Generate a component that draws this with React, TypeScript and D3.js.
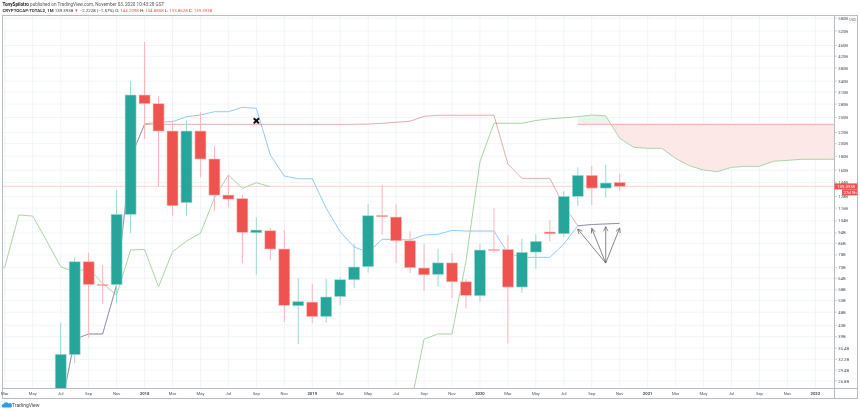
import React from "react";
import * as d3 from "d3";

const W = 860, H = 411;
const PLOT = { l: 2.5, r: 834.5, t: 15.5, b: 388.5, outerR: 857.5, outerB: 398.5 };

// monthly candles, Jul 2017 (month 0) to Nov 2020 (month 40), in billions of USD
const opens = [24, 33.5, 73.6, 60.7, 60.6, 110, 302.3, 280.8, 222.8, 121.4, 222.8, 175.8, 129.5, 125.7, 94.1, 95.7, 82.0, 50.7, 52.3, 46.3, 54.8, 63.2, 70.6, 109.0, 107.5, 87.9, 69.8, 66.1, 72.9, 62.1, 55.2, 81.7, 81.7, 59.4, 79.9, 94.7, 93.3, 128.1, 153.1, 137.4, 144.2098];
const highs = [44.0, 76.6, 79.5, 71.5, 135.1, 340.4, 473.7, 299.8, 243.6, 243.6, 261.1, 196.2, 153.5, 129.5, 107.2, 97.9, 96.3, 64.0, 60.9, 63.6, 64.7, 86.0, 120, 141, 119.7, 95.3, 85.5, 82.2, 79.0, 63.8, 85.5, 115.8, 92.3, 89.4, 93.1, 104.6, 134.0, 163.8, 165.6, 167.5, 154.8858];
const lows = [22, 31.2, 38.6, 51.4, 52.0, 93.8, 208.2, 139.0, 108.7, 108.7, 150.5, 113.1, 117.0, 72.9, 65.9, 74.7, 44.2, 36.6, 43.7, 43.9, 51.0, 58.9, 67.1, 92.6, 72.8, 66.9, 57.4, 59.5, 54.1, 49.6, 52.5, 79.2, 36.8, 56.6, 69.2, 87.5, 91.0, 118, 119, 126.6, 133.8628];
const closes = [33.6, 73.6, 60.7, 60.4, 110, 302.3, 280.8, 222.8, 118.3, 222.8, 175.8, 129.5, 125.2, 94.4, 96.3, 82.0, 50.9, 52.5, 46.3, 54.6, 63.2, 70.4, 108.7, 107.8, 87.9, 70.0, 65.9, 72.9, 62.1, 55.4, 81.3, 81.3, 59.4, 79.7, 87.5, 93.3, 128.1, 153.1, 137.4, 143.4, 139.3938];

// conversion line, month 0 to 40
const conversion = [20.9, 38.2, 39.9, 39.9, 60.4, 177.3, 236.4, 240.5, 241.1, 251.5, 255.2, 262.4, 262.4, 272.4, 270.1, 181.8, 152.2, 148.7, 148.7, 115.8, 94.9, 83.4, 79.7, 89.0, 89.0, 88.5, 92.3, 92.9, 96.0, 95.5, 95.5, 95.5, 79.2, 76.4, 76.4, 76.4, 85.5, 99.8, 100.9, 101.4, 101.9];
// base line, month 0 to 40
const base = [20.9, 38.2, 39.9, 39.9, 60.4, 177.3, 235.8, 235.8, 235.8, 235.8, 235.8, 235.8, 235.8, 235.8, 235.8, 235.8, 235.8, 235.8, 235.8, 235.8, 235.8, 235.8, 236.4, 237.9, 239.9, 242.1, 252.4, 254.7, 254.7, 254.7, 254.7, 254.7, 168.5, 149.2, 149.2, 149.2, 119, 99.8, 100.9, 101.4, 101.9];
// leading span A, two visible runs
const spanAFirstStart = -5;
const spanAFirst = [65.8, 70.4, 109.4, 108.4, 87.7, 70.6, 67.5, 69.6, 61.3, 55.5, 81.3, 81.7, 59.5, 80.1, 87.7, 93.7, 126.3, 153.5, 137.1, 143.8, 139.0];
const spanASecondStart = 25;
const spanASecond = [21.3, 38.2, 39.9, 39.9, 74.0, 171.8, 237.9, 237.9, 237.9, 243.6, 247.1, 249.2, 251.5, 255.2, 253.4, 209.5, 194.1, 192.5, 192.5, 176.8, 166.0, 160.1, 157.9, 163.8, 165.2, 165.2, 172.4, 173.8, 175.3, 175.4, 175.4, 175.4];
// leading span B and the cloud, month 37 to 56
const cloudStart = 37;
const spanB = [235.8, 235.8, 235.8, 235.8, 235.8, 235.8, 235.8, 235.8, 235.8, 235.8, 235.8, 235.8, 235.8, 235.8, 235.8, 235.8, 235.8, 235.8, 235.8, 235.8];

// axes
const yTicks = [580, 520, 460, 420, 380, 340, 310, 280, 250, 220, 200, 180, 160, 144, 128, 116, 104, 94, 86, 78, 70, 64, 58, 53, 48, 43, 39, 35.4, 32.2, 29.4, 26.8];
const xTickMonths = [-4, -2, 0, 2, 4, 6, 8, 10, 12, 14, 16, 18, 20, 22, 24, 26, 28, 30, 32, 34, 36, 38, 40, 42, 44, 46, 48, 50, 52, 54];
const xTickLabels = ["Mar", "May", "Jul", "Sep", "Nov", "2018", "Mar", "May", "Jul", "Sep", "Nov", "2019", "Mar", "May", "Jul", "Sep", "Nov", "2020", "Mar", "May", "Jul", "Sep", "Nov", "2021", "Mar", "May", "Jul", "Sep", "Nov", "2022"];

// annotations
const crossMark = { month: 14, value: 243 };
const arrowBase = { month: 39, value: 72.8 };
const arrowTips = [
  { month: 37, value: 97.1 },
  { month: 38, value: 97.6 },
  { month: 39, value: 99 },
  { month: 40, value: 98 },
];

const FONT = "Roboto, 'Liberation Sans', Arial, sans-serif";
const GREEN = "#26a69a", RED = "#ef5350";

const x = d3.scaleLinear().domain([0, 40]).range([60.7, 619.7]);
const y = d3.scaleLog().domain([26.8, 520]).range([381, 31]);

type P = [number, number];
const pts = (vals: number[], start: number): P[] => vals.map((v, i) => [start + i, v]);
const line = d3.line<P>().x((d) => x(d[0])).y((d) => y(d[1]));

export default function App() {
  const cloud = spanASecond.slice(cloudStart - spanASecondStart, cloudStart - spanASecondStart + spanB.length);
  const area = d3
    .area<number>()
    .x((_, i) => x(cloudStart + i))
    .y0((_, i) => y(spanB[i]))
    .y1((d) => y(d));
  const bY = y(spanB[0]);
  const close = closes[closes.length - 1];
  const bodyW = 11;
  const mono = "#4c525e";

  return (
    <svg width={W} height={H} viewBox={`0 0 ${W} ${H}`} style={{ position: "absolute", left: 0, top: 0, background: "#fff" }} fontFamily={FONT}>
      <defs>
        <filter id="soft" filterUnits="userSpaceOnUse" x="0" y="0" width={W} height={H}>
          <feGaussianBlur stdDeviation="0.28" />
        </filter>
        <clipPath id="plot"><rect x={PLOT.l} y={PLOT.t} width={PLOT.r - PLOT.l} height={PLOT.b - PLOT.t} /></clipPath>
        <clipPath id="above"><rect x={PLOT.l} y={PLOT.t} width={PLOT.r - PLOT.l} height={bY - PLOT.t} /></clipPath>
        <clipPath id="below"><rect x={PLOT.l} y={bY} width={PLOT.r - PLOT.l} height={PLOT.b - bY} /></clipPath>
        <marker id="open" viewBox="0 0 8 8" refX="7" refY="4" markerWidth="6" markerHeight="6" markerUnits="userSpaceOnUse" orient="auto">
          <path d="M1 1 L7 4 L1 7" fill="none" stroke="#555" strokeWidth="0.9" />
        </marker>
      </defs>

      <g filter="url(#soft)">
        <g stroke="#eef2f8" strokeWidth={0.8}>
          {yTicks.map((t) => <line key={t} x1={PLOT.l} x2={PLOT.r} y1={y(t)} y2={y(t)} />)}
          {xTickMonths.map((m) => <line key={m} x1={x(m)} x2={x(m)} y1={PLOT.t} y2={PLOT.b} />)}
        </g>

        <g clipPath="url(#plot)">
          <line x1={PLOT.l} x2={PLOT.r} y1={y(close)} y2={y(close)} stroke={RED} strokeOpacity={0.3} strokeWidth={0.8} />
          <g clipPath="url(#above)"><path d={area(cloud) || ""} fill="#e8f5ea" /></g>
          <g clipPath="url(#below)"><path d={area(cloud) || ""} fill="#fde8e8" /></g>

          <path d={line(pts(spanAFirst, spanAFirstStart)) || ""} fill="none" stroke="#a9d4a6" strokeWidth={1} />
          <path d={line(pts(spanASecond, spanASecondStart)) || ""} fill="none" stroke="#a9d4a6" strokeWidth={1} />
          <path d={line(pts(spanB, cloudStart)) || ""} fill="none" stroke="#f8a9a9" strokeWidth={1} />
          <path d={line(pts(conversion, 0)) || ""} fill="none" stroke="#90caf9" strokeWidth={1} />
          <path d={line(pts(base, 0)) || ""} fill="none" stroke="#b71c1c" strokeOpacity={0.36} strokeWidth={1} />

          {opens.map((o, i) => {
            const c = closes[i];
            const up = c >= o;
            const top = y(Math.max(o, c));
            const bot = y(Math.min(o, c));
            return (
              <g key={i}>
                <line x1={x(i)} x2={x(i)} y1={y(highs[i])} y2={y(lows[i])} stroke={up ? "#9ed8d2" : "#f9b5b3"} strokeWidth={1} />
                <rect x={x(i) - bodyW / 2} y={top} width={bodyW} height={Math.max(bot - top, 1)} fill={up ? GREEN : RED} stroke={up ? "#a8dcd7" : "#f9c0be"} strokeWidth={0.6} />
              </g>
            );
          })}

          <g stroke="#555" strokeWidth={0.7} fill="none">
            {arrowTips.map((t, i) => (
              <line key={i} x1={x(arrowBase.month)} y1={y(arrowBase.value)} x2={x(t.month)} y2={y(t.value)} markerEnd="url(#open)" />
            ))}
          </g>
          <g stroke="#111" strokeWidth={2} transform={`translate(${x(crossMark.month)},${y(crossMark.value)})`}>
            <line x1={-2.6} y1={-2.6} x2={2.6} y2={2.6} />
            <line x1={-2.6} y1={2.6} x2={2.6} y2={-2.6} />
          </g>
        </g>

        <rect x={PLOT.l} y={PLOT.t} width={PLOT.outerR - PLOT.l} height={PLOT.outerB - PLOT.t} fill="none" stroke="#b8bcc4" strokeWidth={1} />
        <line x1={PLOT.l} x2={PLOT.outerR} y1={PLOT.b} y2={PLOT.b} stroke="#b8bcc4" strokeWidth={1} />
        <line x1={PLOT.r} x2={PLOT.r} y1={PLOT.t} y2={PLOT.outerB} stroke="#b8bcc4" strokeWidth={1} />

        <g fontSize={4.2} fill={mono}>
          {yTicks.map((t) => (
            <g key={t}>
              <line x1={PLOT.r} x2={PLOT.r + 2.5} y1={y(t)} y2={y(t)} stroke="#b8bcc4" strokeWidth={0.7} />
              <text x={838.3} y={y(t) + 1.5}>{t}B</text>
            </g>
          ))}
          {xTickMonths.map((m, i) => (
            <text key={m} x={x(m)} y={395} textAnchor="middle" fontWeight={xTickLabels[i].length === 4 ? 700 : 400}>{xTickLabels[i]}</text>
          ))}
        </g>

        <rect x={848.5} y={17} width={8} height={5.5} rx={1} fill="#fff" stroke="#e0e3eb" strokeWidth={0.4} />
        <text x={852.5} y={21} fontSize={3.4} fill={mono} textAnchor="middle">USD</text>

        <rect x={PLOT.r} y={y(close) - 3} width={PLOT.outerR - PLOT.r} height={6} fill={RED} />
        <text x={837} y={y(close) + 1.5} fontSize={4.3} fill="#fff">139.3938</text>
        <rect x={842} y={y(close) + 3} width={PLOT.outerR - 842} height={6} fill={RED} />
        <text x={843.5} y={y(close) + 7.5} fontSize={4.3} fill="#fff">27d 9h</text>

        <text x={2.5} y={5.5} fontSize={4.65} fill="#555">
          <tspan fontWeight={700} fill="#222">TonySpilotro</tspan> published on TradingView.com, November 03, 2020 10:43:28 GST
        </text>
        <text x={2.5} y={12} fontSize={4.4} fill="#333">
          <tspan fontWeight={700}>CRYPTOCAP:TOTAL2, 1M</tspan> 139.3938 <tspan fill={RED}>▼</tspan> −2.2228 (−1.57%) O: <tspan fill={RED}>144.2098</tspan> H: <tspan fill={RED}>154.8858</tspan> L: <tspan fill={RED}>133.8628</tspan> C: <tspan fill={RED}>139.3938</tspan>
        </text>

        <path d="M2.5 407.5 a2 2 0 0 1 1 -3.6 a2.8 2.8 0 0 1 5 -0.4 a2.3 2.3 0 0 1 2.5 4 z" fill="#2a9df4" />
        <text x={12} y={406.5} fontSize={5} fill="#444">TradingView</text>
      </g>
    </svg>
  );
}
